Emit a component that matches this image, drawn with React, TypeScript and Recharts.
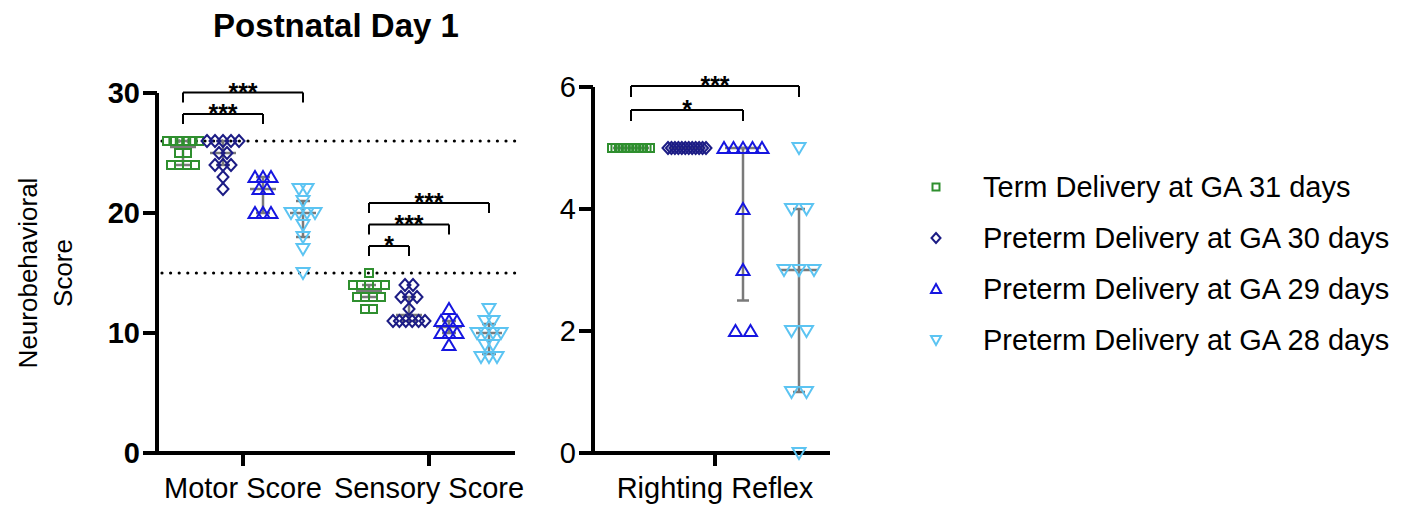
import { ScatterChart, Scatter, XAxis, YAxis, ReferenceLine } from "recharts";

const FONT = '"Liberation Sans", Arial, Helvetica, sans-serif';

const groupNames = [
  "Term Delivery at GA 31 days",
  "Preterm Delivery at GA 30 days",
  "Preterm Delivery at GA 29 days",
  "Preterm Delivery at GA 28 days",
];
const groupColors = ["#2f8f2f", "#1c1c85", "#1616e0", "#5cc4f2"];
const markerKinds = ["square", "diamond", "up", "down"];

const scoreCategories = ["Motor Score", "Sensory Score"];
const scoreTicks = [0, 10, 20, 30];
const reflexCategories = ["Righting Reflex"];
const reflexTicks = [0, 2, 4, 6];
const dottedLevels = [26, 15];

// individual animals
const motorTerm = [26, 26, 26, 26, 26, 26, 25, 25, 24, 24, 24, 24];
const motorGA30 = [26, 26, 26, 26, 26, 25, 25, 24, 24, 24, 23, 22];
const motorGA29 = [23, 23, 23, 22, 22, 20, 20, 20];
const motorGA28 = [22, 22, 21, 20, 20, 20, 20, 19, 18, 17, 15];

const sensoryTerm = [15, 14, 14, 14, 14, 14, 13, 13, 13, 13, 12, 12];
const sensoryGA30 = [14, 14, 13, 13, 13, 12, 11, 11, 11, 11, 11, 11];
const sensoryGA29 = [12, 11, 11, 11, 10, 10, 10, 9];
const sensoryGA28 = [12, 11, 11, 10, 10, 10, 10, 9, 9, 8, 8, 8];

const reflexTerm = [5, 5, 5, 5, 5, 5, 5, 5, 5, 5, 5, 5];
const reflexGA30 = [5, 5, 5, 5, 5, 5, 5, 5, 5, 5, 5, 5];
const reflexGA29 = [5, 5, 5, 5, 5, 4, 3, 2, 2];
const reflexGA28 = [5, 4, 4, 3, 3, 3, 2, 2, 1, 1, 0];

// significance brackets: category index, first group, second group, stars
const scoreComparisons = [
  { cat: 0, a: 0, b: 2, label: "***" },
  { cat: 0, a: 0, b: 3, label: "***" },
  { cat: 1, a: 0, b: 1, label: "*" },
  { cat: 1, a: 0, b: 2, label: "***" },
  { cat: 1, a: 0, b: 3, label: "***" },
];
const reflexComparisons = [
  { cat: 0, a: 0, b: 2, label: "*" },
  { cat: 0, a: 0, b: 3, label: "***" },
];

function quantile(sorted: number[], p: number) {
  const pos = p * (sorted.length + 1);
  const lo = Math.floor(pos);
  if (lo < 1) return sorted[0];
  if (lo >= sorted.length) return sorted[sorted.length - 1];
  return sorted[lo - 1] + (pos - lo) * (sorted[lo] - sorted[lo - 1]);
}

function spread(values: number[], center: number, pxPerX: number, maxSp: number, maxSpan: number) {
  const counts = new Map<number, number>();
  values.forEach((v) => counts.set(v, (counts.get(v) || 0) + 1));
  const seen = new Map<number, number>();
  return values.map((v) => {
    const k = counts.get(v)!;
    const i = seen.get(v) || 0;
    seen.set(v, i + 1);
    const sp = k > 1 ? Math.min(maxSp, maxSpan / (k - 1)) : 0;
    return { x: center + ((i - (k - 1) / 2) * sp) / pxPerX, y: v };
  });
}

function Marker({ cx, cy, kind, color }: { cx: number; cy: number; kind: string; color: string }) {
  const s = { fill: "none", stroke: color, strokeWidth: 2 };
  if (kind === "square") return <rect x={cx - 4} y={cy - 4} width={8} height={8} {...s} />;
  if (kind === "diamond") return <path d={`M${cx},${cy - 6}L${cx + 5.5},${cy}L${cx},${cy + 6}L${cx - 5.5},${cy}Z`} {...s} />;
  if (kind === "up") return <path d={`M${cx},${cy - 6}L${cx + 6.5},${cy + 5}L${cx - 6.5},${cy + 5}Z`} {...s} />;
  return <path d={`M${cx},${cy + 6}L${cx + 6.5},${cy - 5}L${cx - 6.5},${cy - 5}Z`} {...s} />;
}

type PanelProps = {
  width: number;
  height: number;
  margin: { top: number; right: number; bottom: number; left: number };
  yAxisWidth: number;
  domainX: [number, number];
  yMax: number;
  yTicks: number[];
  categories: string[];
  series: number[][][];
  offsetsPx: number[];
  jitter: [number, number];
  comparisons: { cat: number; a: number; b: number; label: string }[];
  bracket: { gap: number; step: number; leg: number };
  dotted: number[];
  boldTicks: boolean;
  whisker: { median: number; cap: number };
};

function Panel(p: PanelProps) {
  const plotW = p.width - p.margin.left - p.margin.right - p.yAxisWidth;
  const plotH = p.height - p.margin.top - p.margin.bottom - 52;
  const pxPerX = plotW / (p.domainX[1] - p.domainX[0]);
  const pxPerY = plotH / p.yMax;
  const catX = (c: number) => c + 1;
  const groupX = (c: number, g: number) => catX(c) + p.offsetsPx[g] / pxPerX;

  const seriesData = p.series.map((cats, g) =>
    cats.flatMap((vals, c) => spread(vals, groupX(c, g), pxPerX, p.jitter[0], p.jitter[1]))
  );

  const whiskers: { x1: number; y1: number; x2: number; y2: number }[] = [];
  p.series.forEach((cats, g) =>
    cats.forEach((vals, c) => {
      const s = [...vals].sort((a, b) => a - b);
      const med = quantile(s, 0.5);
      const q1 = quantile(s, 0.25);
      const q3 = quantile(s, 0.75);
      const x = groupX(c, g);
      const mw = p.whisker.median / pxPerX;
      const cw = p.whisker.cap / pxPerX;
      whiskers.push({ x1: x, y1: q1, x2: x, y2: q3 });
      whiskers.push({ x1: x - mw, y1: med, x2: x + mw, y2: med });
      if (q3 > q1) {
        whiskers.push({ x1: x - cw, y1: q1, x2: x + cw, y2: q1 });
        whiskers.push({ x1: x - cw, y1: q3, x2: x + cw, y2: q3 });
      }
    })
  );

  const levelByCat: Record<number, number> = {};
  const brackets = p.comparisons.map((cmp) => {
    const idx = levelByCat[cmp.cat] || 0;
    levelByCat[cmp.cat] = idx + 1;
    const catTop = Math.max(...p.series.map((cats) => Math.max(...cats[cmp.cat])));
    const yTop = catTop + (p.bracket.gap + idx * p.bracket.step) / pxPerY;
    const yLeg = yTop - p.bracket.leg / pxPerY;
    return { x1: groupX(cmp.cat, cmp.a), x2: groupX(cmp.cat, cmp.b), yTop, yLeg, label: cmp.label };
  });

  const tickFont = { fontSize: 29, fontWeight: p.boldTicks ? 700 : 400, fill: "#000", fontFamily: FONT };

  return (
    <ScatterChart width={p.width} height={p.height} margin={p.margin}>
      <XAxis
        type="number"
        dataKey="x"
        domain={p.domainX}
        ticks={p.categories.map((_, i) => catX(i))}
        tickFormatter={(v) => p.categories[Math.round(v) - 1]}
        axisLine={{ stroke: "#000", strokeWidth: 4 }}
        tickLine={{ stroke: "#000", strokeWidth: 4 }}
        tickSize={13}
        tickMargin={11}
        height={52}
        interval={0}
        tick={{ fontSize: 29, fill: "#000", fontFamily: FONT }}
      />
      <YAxis
        type="number"
        dataKey="y"
        domain={[0, p.yMax]}
        ticks={p.yTicks}
        width={p.yAxisWidth}
        axisLine={{ stroke: "#000", strokeWidth: 4 }}
        tickLine={{ stroke: "#000", strokeWidth: 4 }}
        tickSize={14}
        tickMargin={3}
        tick={tickFont}
      />
      {p.dotted.map((lv) => (
        <ReferenceLine
          key={"d" + lv}
          segment={[
            { x: p.domainX[0] + 5 / pxPerX, y: lv },
            { x: p.domainX[1] + 8 / pxPerX, y: lv },
          ]}
          ifOverflow="visible"
          stroke="#000"
          strokeWidth={3.2}
          strokeDasharray="0 8.6"
          strokeLinecap="round"
        />
      ))}
      {seriesData.map((data, g) => (
        <Scatter
          key={groupNames[g]}
          name={groupNames[g]}
          data={data}
          isAnimationActive={false}
          shape={(sp: any) => <Marker cx={sp.cx} cy={sp.cy} kind={markerKinds[g]} color={groupColors[g]} />}
        />
      ))}
      {whiskers.map((w, i) => (
        <ReferenceLine
          key={"w" + i}
          segment={[
            { x: w.x1, y: w.y1 },
            { x: w.x2, y: w.y2 },
          ]}
          ifOverflow="visible"
          stroke="#7a7a7a"
          strokeWidth={2.5}
        />
      ))}
      {brackets.flatMap((b, i) => [
        <ReferenceLine
          key={"bl" + i}
          segment={[
            { x: b.x1, y: b.yLeg },
            { x: b.x1, y: b.yTop },
          ]}
          ifOverflow="visible"
          stroke="#000"
          strokeWidth={2}
        />,
        <ReferenceLine
          key={"br" + i}
          segment={[
            { x: b.x2, y: b.yLeg },
            { x: b.x2, y: b.yTop },
          ]}
          ifOverflow="visible"
          stroke="#000"
          strokeWidth={2}
        />,
        <ReferenceLine
          key={"bt" + i}
          segment={[
            { x: b.x1, y: b.yTop },
            { x: b.x2, y: b.yTop },
          ]}
          ifOverflow="visible"
          stroke="#000"
          strokeWidth={2}
          label={(lp: any) => {
            const vb = lp.viewBox || {};
            return (
              <text
                x={(vb.x || 0) + (vb.width || 0) / 2}
                y={(vb.y || 0) + 8}
                textAnchor="middle"
                fontSize={25}
                fontWeight={700}
                fontFamily={FONT}
                fill="#000"
              >
                {b.label}
              </text>
            );
          }}
        />,
      ])}
    </ScatterChart>
  );
}

function LegendMarker({ kind, color, cx, cy }: { kind: string; color: string; cx: number; cy: number }) {
  const s = { fill: "none", stroke: color, strokeWidth: 2 };
  if (kind === "square") return <rect x={cx - 3.5} y={cy - 3.5} width={7} height={7} {...s} />;
  if (kind === "diamond") return <path d={`M${cx},${cy - 5}L${cx + 4.5},${cy}L${cx},${cy + 5}L${cx - 4.5},${cy}Z`} {...s} />;
  if (kind === "up") return <path d={`M${cx},${cy - 5}L${cx + 5},${cy + 4}L${cx - 5},${cy + 4}Z`} {...s} />;
  return <path d={`M${cx},${cy + 5}L${cx + 5},${cy - 4}L${cx - 5},${cy - 4}Z`} {...s} />;
}

export default function App() {
  return (
    <div style={{ position: "absolute", left: 0, top: 0, width: 1410, height: 505, background: "#fff", fontFamily: FONT }}>
      <svg width={1410} height={505} style={{ position: "absolute", left: 0, top: 0 }}>
        <text x={336} y={37} textAnchor="middle" fontSize={33} fontWeight={700} fontFamily={FONT} fill="#000">
          Postnatal Day 1
        </text>
        <text transform="translate(37,273) rotate(-90)" textAnchor="middle" fontSize={26} fontFamily={FONT} fill="#000">
          Neurobehavioral
        </text>
        <text transform="translate(72,273) rotate(-90)" textAnchor="middle" fontSize={26} fontFamily={FONT} fill="#000">
          Score
        </text>
        {groupNames.map((n, i) => (
          <g key={n}>
            <LegendMarker kind={markerKinds[i]} color={groupColors[i]} cx={936} cy={187 + i * 51} />
            <text x={983} y={187 + i * 51} dy="0.36em" fontSize={29} fontFamily={FONT} fill="#000">
              {n}
            </text>
          </g>
        ))}
      </svg>
      <div style={{ position: "absolute", left: 0, top: 0 }}>
        <Panel
          width={540}
          height={505}
          margin={{ top: 93, right: 25, bottom: 0, left: 97 }}
          yAxisWidth={60}
          domainX={[1 - 86 / 186, 2 + 86 / 186]}
          yMax={30}
          yTicks={scoreTicks}
          categories={scoreCategories}
          series={[
            [motorTerm, sensoryTerm],
            [motorGA30, sensoryGA30],
            [motorGA29, sensoryGA29],
            [motorGA28, sensoryGA28],
          ]}
          offsetsPx={[-60, -20, 20, 60]}
          jitter={[8, 32]}
          comparisons={scoreComparisons}
          bracket={{ gap: 27, step: 21.5, leg: 10 }}
          dotted={dottedLevels}
          boldTicks={true}
          whisker={{ median: 13, cap: 7 }}
        />
      </div>
      <div style={{ position: "absolute", left: 540, top: 0 }}>
        <Panel
          width={300}
          height={505}
          margin={{ top: 87, right: 10, bottom: 0, left: 3 }}
          yAxisWidth={50}
          domainX={[0.5, 1 + 115 / 244]}
          yMax={6}
          yTicks={reflexTicks}
          categories={reflexCategories}
          series={[[reflexTerm], [reflexGA30], [reflexGA29], [reflexGA28]]}
          offsetsPx={[-84, -28, 28, 84]}
          jitter={[15, 38]}
          comparisons={reflexComparisons}
          bracket={{ gap: 38, step: 24, leg: 11 }}
          dotted={[]}
          boldTicks={false}
          whisker={{ median: 18, cap: 6 }}
        />
      </div>
    </div>
  );
}
